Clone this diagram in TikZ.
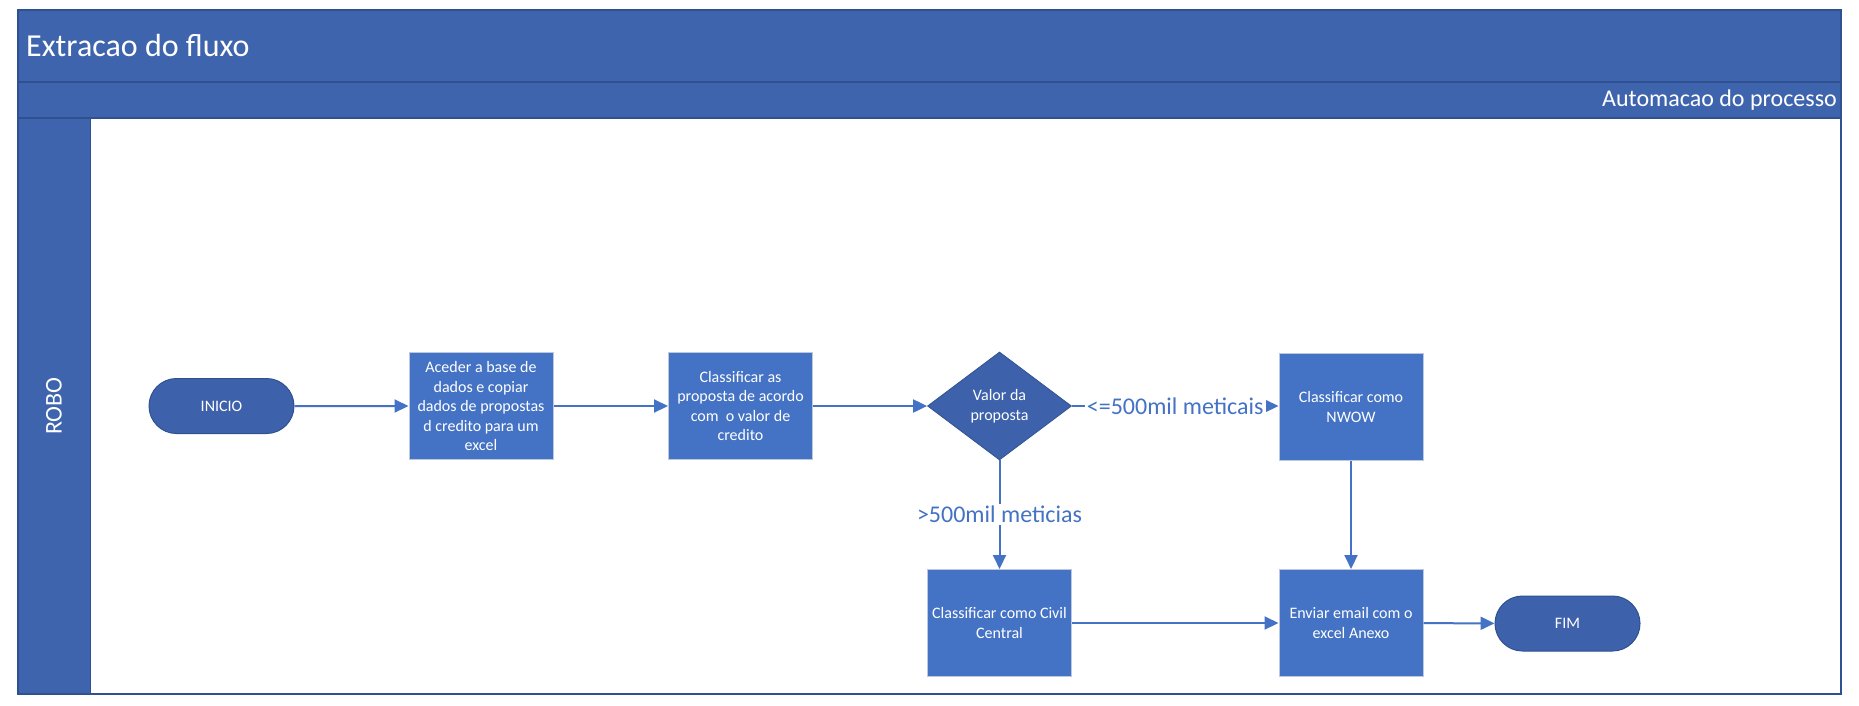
\documentclass[tikz,border=0pt]{standalone}
\usepackage{fontspec}
\setmainfont{Carlito}
\usetikzlibrary{shapes.geometric,shapes.misc,arrows.meta}

\definecolor{hdr}{HTML}{3F64AE}
\definecolor{hdrline}{HTML}{2F5091}
\definecolor{boxblue}{HTML}{4472C4}
\definecolor{boxedge}{HTML}{BCC8DE}
\definecolor{darkfill}{HTML}{3D62AB}
\definecolor{darkedge}{HTML}{2F528F}
\definecolor{flow}{HTML}{4472C4}

\tikzset{
  boxfont/.style={font=\fontsize{16}{19.5}\selectfont},
  procbox/.style={rectangle, fill=boxblue, draw=boxedge, line width=1pt,
    minimum width=144pt, minimum height=107pt, inner sep=2pt,
    align=center, text=white, boxfont},
  terminal/.style={rounded rectangle, fill=darkfill, draw=darkedge, line width=1pt,
    minimum width=145pt, minimum height=55pt, inner sep=0pt,
    text=white, boxfont},
  decision/.style={diamond, aspect=1.333, fill=darkfill, draw=darkedge, line width=0.8pt,
    minimum width=144pt, minimum height=108pt, inner sep=0pt,
    align=center, text=white, boxfont},
  flowline/.style={draw=flow, line width=2pt, -{Triangle[length=14pt,width=13pt]}},
  condlabel/.style={fill=white, text=flow, font=\fontsize{24}{29}\selectfont, inner sep=2pt},
  lanetext/.style={text=white, inner sep=0pt, font=\fontsize{24}{29}\selectfont},
}

\begin{document}
\begin{tikzpicture}[x=1pt,y=-1pt]
\useasboundingbox (0,0) rectangle (1859,705);

% pool with its title band, phase band and lane header
\fill[white] (17.5,10) rectangle (1840.5,693.5);
\fill[hdr] (17.5,10) rectangle (1840.5,118);
\fill[hdr] (17.5,118) rectangle (90.5,693.5);
\draw[hdrline, line width=1.5pt] (17.5,82) -- (1840.5,82);
\draw[hdrline, line width=1.5pt] (17.5,118) -- (1840.5,118);
\draw[hdrline, line width=1.5pt] (90.5,118) -- (90.5,693.5);
\draw[hdrline, line width=2pt] (17.5,10) rectangle (1840.5,693.5);

\node[lanetext, anchor=west, font=\fontsize{32}{38}\selectfont] (pooltitle) at (26,46) {Extracao do fluxo};
\node[lanetext, anchor=east] (phase) at (1837,100) {Automacao do processo};
\node[lanetext, rotate=90] (lane) at (54,406) {ROBO};

% process steps
\node[terminal] (inicio) at (221.5,406) {INICIO};
\node[procbox] (acesso) at (481,406) {Aceder a base de\\dados e copiar\\dados de propostas\\d credito para um\\excel};
\node[procbox] (classif) at (740.5,406) {Classificar as\\proposta de acordo\\com\ \ o valor de\\credito};
\node[decision] (valor) at (999.5,406) {Valor da\\proposta};
\node[procbox] (nwow) at (1351,407) {Classificar como\\NWOW};
\node[procbox] (civil) at (999.5,623) {Classificar como Civil\\Central};
\node[procbox] (email) at (1351,623) {Enviar email com o\\excel Anexo};
\node[terminal] (fim) at (1567.5,623.5) {FIM};

% connectors
\draw[flowline] (inicio) -- (acesso);
\draw[flowline] (acesso) -- (classif);
\draw[flowline] (classif) -- (valor);
\draw[flowline] (valor.east) -- node[condlabel] (menor) {<=500mil meticais} (valor.east -| nwow.west);
\draw[flowline] (valor.south) -- node[condlabel] (maior) {>500mil meticias} (civil);
\draw[flowline] (nwow) -- (email);
\draw[flowline] (civil) -- (email);
\draw[flowline] (email) -- (fim);
\end{tikzpicture}
\end{document}
